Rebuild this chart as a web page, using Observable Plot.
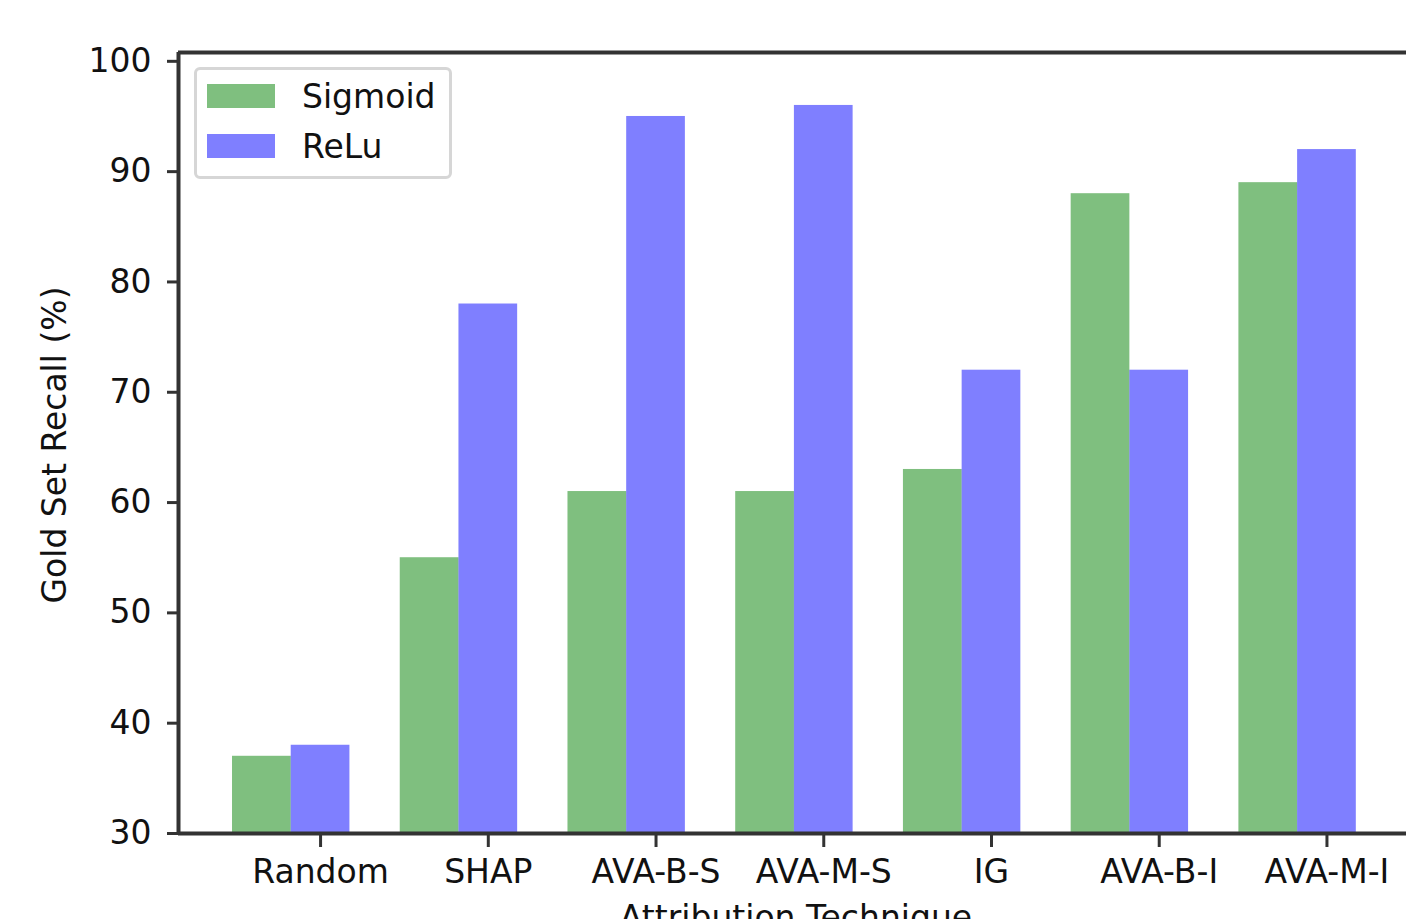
<!DOCTYPE html>
<html><head><meta charset="utf-8">
<script src="https://cdn.jsdelivr.net/npm/d3@7"></script>
<script src="https://cdn.jsdelivr.net/npm/@observablehq/plot@0.6"></script>
<style>
html,body{margin:0;padding:0;background:#fff;overflow:hidden}
#chart{position:relative;width:1406px;height:919px;font-family:"DejaVu Sans",sans-serif}
#legend{position:absolute;left:194px;top:67px;width:252px;height:106px;border:3px solid #d6d6d6;border-radius:6px;background:#fff;box-sizing:content-box}
#legend .item{position:absolute;left:10px;height:24px;display:flex;align-items:center}
#legend .sw{width:68px;height:24px;opacity:0.5}
#legend .lab{position:absolute;left:95px;font-size:33px;color:#111;white-space:nowrap;line-height:1}
</style></head><body><div id="chart"></div>
<script>
const categories = ["Random", "SHAP", "AVA-B-S", "AVA-M-S", "IG", "AVA-B-I", "AVA-M-I"];
const sigmoid = [37, 55, 61, 61, 63, 88, 89];
const relu = [38, 78, 95, 96, 72, 72, 92];
const seriesNames = ["Sigmoid", "ReLu"];
const seriesColors = ["#008000", "#0000ff"];
const yTicks = [30, 40, 50, 60, 70, 80, 90, 100];
const barWidth = 0.35;
const yDomain = [30, 100.8];
const xDomain = [-0.497, 6.86];

const rows = [];
categories.forEach((c, i) => {
  rows.push({cat: c, series: "Sigmoid", value: sigmoid[i], center: i});
  rows.push({cat: c, series: "ReLu", value: relu[i], center: i + barWidth});
});

const plot = Plot.plot({
  width: 1406, height: 919,
  marginLeft: 178, marginRight: 0, marginTop: 52, marginBottom: 86,
  style: {fontFamily: "DejaVu Sans", fontSize: "33px", color: "#111", background: "#fff", overflow: "hidden"},
  x: {type: "linear", domain: xDomain, range: [178, 1412]},
  y: {domain: yDomain, range: [833, 52]},
  color: {domain: seriesNames, range: seriesColors},
  marks: [
    Plot.rect(rows, {x1: d => d.center - barWidth / 2, x2: d => d.center + barWidth / 2, y1: yDomain[0], y2: "value", fill: "series", fillOpacity: 0.5}),
    Plot.axisY({ticks: yTicks, tickSize: 11, tickPadding: 16, tickFormat: d => String(d), label: null, stroke: "#333", strokeWidth: 3, fill: "#111"}),
    Plot.axisX({ticks: categories.map((c, i) => i + barWidth), tickFormat: d => categories[Math.round(d - barWidth)], tickSize: 14, tickPadding: 12, label: null, stroke: "#333", strokeWidth: 3, fill: "#111"}),
    Plot.ruleX([xDomain[0]], {stroke: "#333", strokeWidth: 4}),
    Plot.ruleY([yDomain[0], yDomain[1]], {stroke: "#333", strokeWidth: 4})
  ]
});

const svg = d3.select(plot);
svg.append("text")
  .attr("transform", "translate(66,445) rotate(-90)")
  .attr("text-anchor", "middle")
  .attr("fill", "#111")
  .style("font-size", "33px")
  .text("Gold Set Recall (%)");
svg.append("text")
  .attr("x", 796).attr("y", 929)
  .attr("text-anchor", "middle")
  .attr("fill", "#111")
  .style("font-size", "33px")
  .text("Attribution Technique");

const chart = document.getElementById("chart");
chart.appendChild(plot);

const legend = document.createElement("div");
legend.id = "legend";
const tops = [14, 64];
seriesNames.forEach((name, k) => {
  const item = document.createElement("div");
  item.className = "item";
  item.style.top = tops[k] + "px";
  const sw = document.createElement("div");
  sw.className = "sw";
  sw.style.background = seriesColors[k];
  const lab = document.createElement("div");
  lab.className = "lab";
  lab.textContent = name;
  item.appendChild(sw);
  item.appendChild(lab);
  legend.appendChild(item);
});
chart.appendChild(legend);
</script>
</body></html>
